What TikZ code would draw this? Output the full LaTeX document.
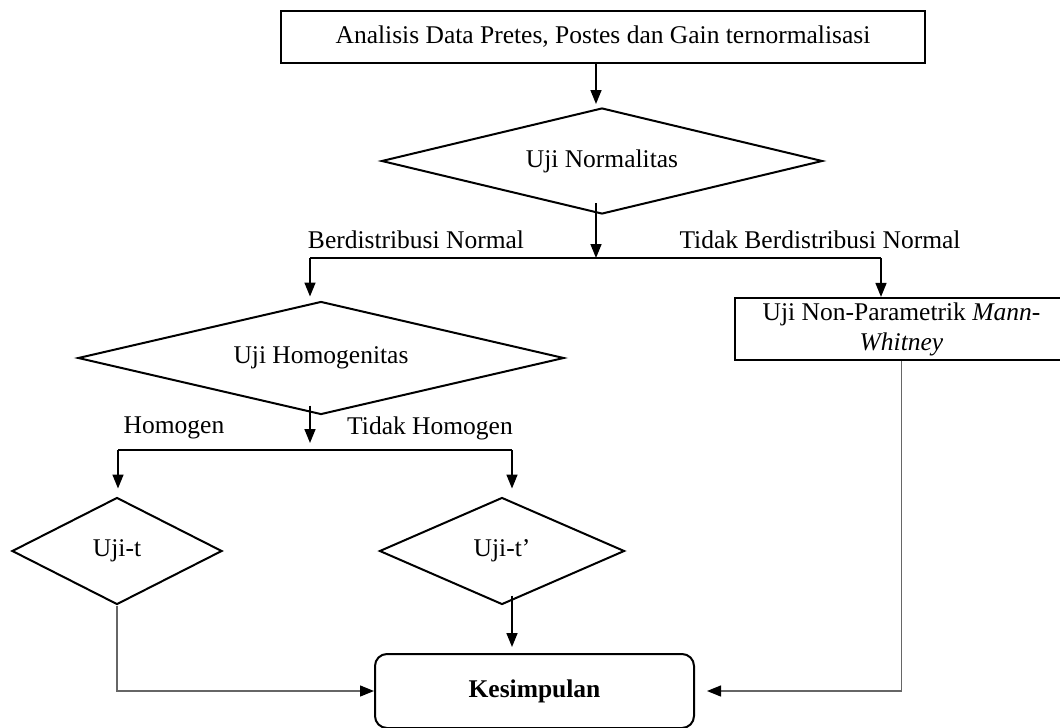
\documentclass[tikz,border=0pt]{standalone}
\usepackage{fontspec}
\setmainfont{Liberation Serif}
\usetikzlibrary{shapes.geometric,arrows.meta,calc}
\tikzset{
  box/.style={draw=black,line width=2.2pt,rectangle,inner sep=0pt},
  dia/.style={draw=black,line width=2pt,diamond,inner sep=0pt},
  txt/.style={font=\fontsize{25.5}{30}\selectfont},
  conn/.style={draw=black,line width=1.6pt},
  tip/.style={-{Triangle[length=14pt,width=11pt,color=black]}},
  arr/.style={conn,tip},
  thinc/.style={draw=black!60,line width=1.3pt},
  thinarr/.style={thinc,tip}
}
\begin{document}
\begin{tikzpicture}[x=1pt,y=-1pt]
\useasboundingbox (0,0) rectangle (1060,728);
\clip (0,0) rectangle (1060,728);
% nodes
\node[box,txt,minimum width=644pt,minimum height=52pt] (top) at (603,37) {Analisis Data Pretes, Postes dan Gain ternormalisasi};
\node[dia,txt,aspect=4.16,minimum width=441pt,minimum height=106pt] (norm) at (602,161) {Uji Normalitas};
\node[txt] (lbn) at (416,240) {Berdistribusi Normal};
\node[txt] (ltbn) at (820,240) {Tidak Berdistribusi Normal};
\node[dia,txt,aspect=4.3,minimum width=486pt,minimum height=113pt] (homo) at (321,358) {Uji Homogenitas};
\node[box,txt,align=center,minimum width=333pt,minimum height=62pt] (mw) at (901.5,329) {Uji Non-Parametrik \textit{Mann-}\\\textit{Whitney}};
\node[txt] (lh) at (174,428) {Homogen};
\node[txt] (lth) at (430,428) {Tidak Homogen};
\node[dia,txt,aspect=1.96,minimum width=210pt,minimum height=107pt] (ujit) at (117,551) {Uji-t};
\node[dia,txt,aspect=2.29,minimum width=245pt,minimum height=107pt] (ujitp) at (502,551) {Uji-t’};
\node[box,txt,rounded corners=12pt,line width=2pt,minimum width=319pt,minimum height=74pt,font=\fontsize{25.5}{30}\selectfont\bfseries] (kes) at (534.5,691) {Kesimpulan};
% junctions
\coordinate (j1) at (596,258);
\coordinate (j1L) at (310,258);
\coordinate (j1R) at (881,258);
\coordinate (j2a) at (310,443);
\coordinate (j2L) at (118,450);
\coordinate (j2R) at (512,450);
% connectors
\draw[arr] (top.south -| j1) -- ($(norm.north -| j1)+(0,-3)$);
\draw[arr] ($(norm.south -| j1)+(0,-12)$) -- (j1);
\draw[conn] (j1L) -- (j1R);
\draw[arr] (j1L) -- ($(homo.north -| j1L)+(0,-4)$);
\draw[arr] (j1R) -- (mw.north -| j1R);
\draw[arr] ($(homo.south -| j2a)+(0,-10)$) -- (j2a);
\draw[conn] (j2L) -- (j2R);
\draw[arr] (j2L) -- ($(ujit.north -| j2L)+(0,-8)$);
\draw[arr] (j2R) -- ($(ujitp.north -| j2R)+(0,-8)$);
\draw[thinarr] (ujit.south) |- (kes.west);
\draw[arr] ($(ujitp.south -| j2R)+(0,-10)$) -- ($(kes.north -| j2R)+(0,-6)$);
\draw[thinarr] (mw.south) |- ($(kes.east)+(12,0)$);
\end{tikzpicture}
\end{document}
